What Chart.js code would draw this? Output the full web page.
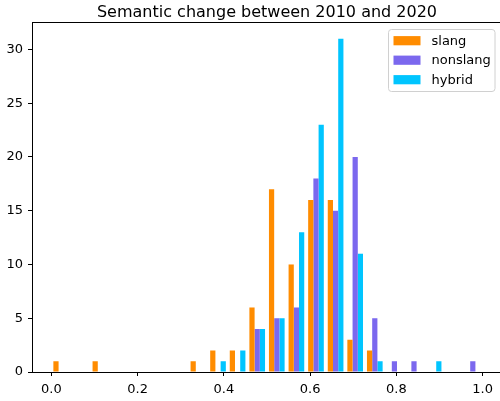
<!DOCTYPE html>
<html>
<head>
<meta charset="utf-8">
<script src="https://cdn.jsdelivr.net/npm/chart.js@4/dist/chart.umd.min.js"></script>
<style>
  html, body { margin: 0; padding: 0; background: #fff; overflow: hidden; }
  #wrap { position: absolute; left: 0; top: 0; width: 504px; height: 401px; }
</style>
</head>
<body>
<div id="wrap"><canvas id="c" width="504" height="401"></canvas></div>
<script>
// Bin centers (22 bins between 0 and 1)
const binCenters = [0.0227, 0.0682, 0.1136, 0.1591, 0.2045, 0.2500, 0.2955, 0.3409, 0.3864, 0.4318, 0.4773,
                    0.5227, 0.5682, 0.6136, 0.6591, 0.7045, 0.7500, 0.7955, 0.8409, 0.8864, 0.9318, 0.9773];
const slang    = [1, 0, 1, 0, 0, 0, 0, 1, 2, 2, 6, 17, 10, 16, 16, 3, 2, 0, 0, 0, 0, 0];
const nonslang = [0, 0, 0, 0, 0, 0, 0, 0, 0, 0, 4, 5, 6, 18, 15, 20, 5, 1, 1, 0, 0, 1];
const hybrid   = [0, 0, 0, 0, 0, 0, 0, 0, 1, 2, 4, 5, 13, 23, 31, 11, 1, 0, 0, 1, 0, 0];
const seriesNames = ['slang', 'nonslang', 'hybrid'];
const seriesColors = ['#ff8c00', '#7b68ee', '#00c5ff'];
const xTicks = [0.0, 0.2, 0.4, 0.6, 0.8, 1.0];
const yTicks = [0, 5, 10, 15, 20, 25, 30];
const titleText = 'Semantic change between 2010 and 2020';

const FONT = "'DejaVu Sans', sans-serif";
Chart.defaults.font.family = FONT;
Chart.defaults.color = '#000';

function toPoints(arr) { return arr.map((v, i) => ({ x: binCenters[i], y: v })); }

const decor = {
  id: 'decor',
  afterDraw(chart) {
    const ctx = chart.ctx;
    const a = chart.chartArea;
    ctx.save();
    // top spine
    ctx.strokeStyle = '#000';
    ctx.lineWidth = 1;
    ctx.beginPath();
    ctx.moveTo(a.left, a.top + 0.5);
    ctx.lineTo(a.right, a.top + 0.5);
    ctx.stroke();
    // title
    ctx.fillStyle = '#000';
    ctx.font = '16px ' + FONT;
    ctx.textAlign = 'center';
    ctx.textBaseline = 'alphabetic';
    ctx.fillText(titleText, (a.left + a.right) / 2, 17);
    // legend
    const bx = 388.5, by = 29.5, bw = 106.5, bh = 62;
    ctx.fillStyle = 'rgba(255,255,255,0.8)';
    ctx.strokeStyle = '#d0d0d0';
    ctx.lineWidth = 1;
    ctx.beginPath();
    ctx.roundRect(bx, by, bw, bh, 3);
    ctx.fill();
    ctx.stroke();
    ctx.font = '13px ' + FONT;
    ctx.textAlign = 'left';
    ctx.textBaseline = 'middle';
    for (let i = 0; i < seriesNames.length; i++) {
      const cy = 40.7 + i * 19.5;
      ctx.fillStyle = seriesColors[i];
      ctx.fillRect(393.5, cy - 4.6, 27, 9.2);
      ctx.fillStyle = '#000';
      ctx.fillText(seriesNames[i], 431.5, cy + 0.5);
    }
    ctx.restore();
  }
};

new Chart(document.getElementById('c'), {
  type: 'bar',
  data: {
    datasets: seriesNames.map((n, i) => ({
      label: n,
      data: toPoints([slang, nonslang, hybrid][i]),
      backgroundColor: seriesColors[i],
      borderWidth: 0,
      categoryPercentage: 0.8,
      barPercentage: 1.0
    }))
  },
  options: {
    responsive: false,
    animation: false,
    devicePixelRatio: 1,
    layout: { padding: { top: 22, left: 0, right: 2, bottom: 0 } },
    plugins: { legend: { display: false }, title: { display: false }, tooltip: { enabled: false } },
    scales: {
      x: {
        type: 'linear',
        offset: false,
        min: -0.045,
        max: 1.045,
        afterFit(s) { s.height = 29; },
        afterBuildTicks(s) { s.ticks = xTicks.map(v => ({ value: v })); },
        ticks: { font: { size: 13 }, padding: 6, maxRotation: 0, callback: v => Number(v).toFixed(1) },
        grid: { display: true, offset: false, drawOnChartArea: false, drawTicks: true, tickLength: 4, color: '#000', tickWidth: 1 },
        border: { display: true, color: '#000', width: 1 }
      },
      y: {
        type: 'linear',
        min: 0,
        max: 32.55,
        afterFit(s) { s.width = 32; },
        afterBuildTicks(s) { s.ticks = yTicks.map(v => ({ value: v })); },
        ticks: { font: { size: 13 }, padding: 5, callback: v => String(v) },
        grid: { display: true, offset: false, drawOnChartArea: false, drawTicks: true, tickLength: 4, color: '#000', tickWidth: 1 },
        border: { display: true, color: '#000', width: 1 }
      }
    }
  },
  plugins: [decor]
});
</script>
</body>
</html>
